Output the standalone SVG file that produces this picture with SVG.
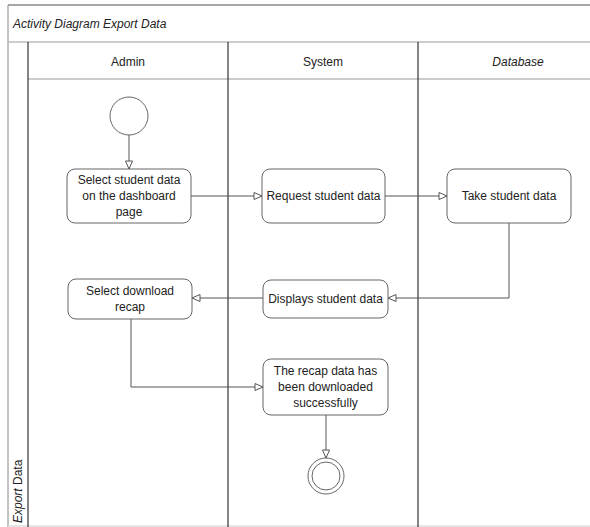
<svg xmlns="http://www.w3.org/2000/svg" width="590" height="527" viewBox="0 0 590 527">
<defs>
<marker id="arr" markerWidth="10" markerHeight="8" refX="9" refY="4" orient="auto" markerUnits="userSpaceOnUse">
<path d="M1,0.5 L9,4 L1,7.5 Z" fill="#fff" stroke="#555" stroke-width="1"/>
</marker>
<style>
text{font-family:"Liberation Sans",Arial,sans-serif;font-size:12px;fill:#222}
.lane{stroke:#333;stroke-width:1.2;fill:none}
.sep{stroke:#bbb;stroke-width:1.5;fill:none}
.node{fill:#fff;stroke:#666;stroke-width:1}
.conn{fill:none;stroke:#555;stroke-width:1;marker-end:url(#arr)}
.c{text-anchor:middle}
</style>
</defs>
<rect x="0" y="0" width="590" height="527" fill="#fff"/>
<g id="frame">
<line x1="8" y1="5" x2="590" y2="5" stroke="#888" stroke-width="1.5"/>
<line x1="8" y1="5" x2="8" y2="527" stroke="#888" stroke-width="1"/>
<line x1="8" y1="42" x2="590" y2="42" class="sep"/>
<line x1="28" y1="79" x2="590" y2="79" class="sep"/>
<line x1="8" y1="526" x2="590" y2="526" stroke="#ddd" stroke-width="1.5"/>
<line x1="28" y1="42" x2="28" y2="527" class="lane"/>
<line x1="228" y1="42" x2="228" y2="527" class="lane"/>
<line x1="418" y1="42" x2="418" y2="527" class="lane"/>
<text x="13" y="28" font-style="italic">Activity Diagram Export Data</text>
<text x="128" y="66" class="c">Admin</text>
<text x="323" y="66" class="c">System</text>
<text x="518" y="66" class="c" font-style="italic">Database</text>
<text transform="translate(22,523) rotate(-90)"><tspan font-style="italic">Export</tspan> Data</text>
</g>
<g id="connectors">
<line x1="129" y1="135" x2="129" y2="169" class="conn"/>
<line x1="191" y1="196" x2="262" y2="196" class="conn"/>
<line x1="385" y1="196" x2="447" y2="196" class="conn"/>
<polyline points="509,223 509,298 388,298" class="conn"/>
<line x1="263" y1="298" x2="192" y2="298" class="conn"/>
<polyline points="131,319 131,387 263,387" class="conn"/>
<line x1="326" y1="415" x2="326" y2="458" class="conn"/>
</g>
<g id="start"><circle cx="129" cy="116" r="19" class="node"/></g>
<g id="n1"><rect x="67" y="169" width="124" height="54" rx="8" class="node"/>
<text x="129" y="184" class="c">Select student data</text>
<text x="129" y="200" class="c">on the dashboard</text>
<text x="129" y="216" class="c">page</text></g>
<g id="n2"><rect x="262" y="169" width="123" height="54" rx="8" class="node"/>
<text x="323.5" y="200" class="c">Request student data</text></g>
<g id="n3"><rect x="447" y="169" width="124" height="54" rx="8" class="node"/>
<text x="509" y="200" class="c">Take student data</text></g>
<g id="n4"><rect x="263" y="280" width="125" height="38" rx="8" class="node"/>
<text x="325.5" y="303" class="c">Displays student data</text></g>
<g id="n5"><rect x="68" y="279" width="124" height="40" rx="8" class="node"/>
<text x="130" y="295" class="c">Select download</text>
<text x="130" y="311" class="c">recap</text></g>
<g id="n6"><rect x="263" y="359" width="125" height="56" rx="8" class="node"/>
<text x="325.5" y="375" class="c">The recap data has</text>
<text x="325.5" y="391" class="c">been downloaded</text>
<text x="325.5" y="407" class="c">successfully</text></g>
<g id="end"><circle cx="326" cy="476" r="18" class="node"/><circle cx="326" cy="476" r="14" class="node"/></g>
</svg>
